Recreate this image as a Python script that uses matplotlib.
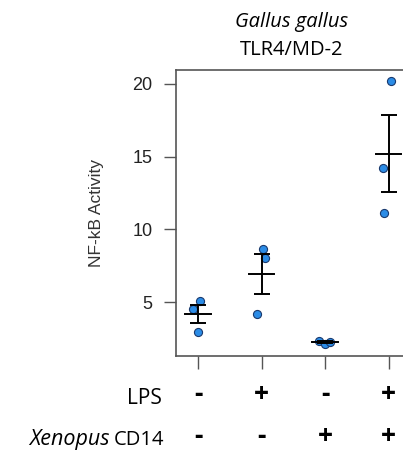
import numpy as np
import matplotlib.pyplot as plt

# data
groups = [1, 2, 3, 4]
pts_x = [[0.92, 1.04, 1.00],
         [2.03, 2.06, 1.93],
         [2.90, 3.00, 3.08],
         [4.03, 3.91, 3.93]]
pts_y = [[4.52, 5.07, 2.95],
         [8.63, 8.01, 4.18],
         [2.35, 2.15, 2.25],
         [20.2, 14.25, 11.16]]
lps = ['-', '+', '-', '+']
cd14 = ['-', '-', '+', '+']
yticks = [5, 10, 15, 20]

plt.rcParams['font.family'] = 'Liberation Sans'

fig = plt.figure(figsize=(4.03, 4.51), dpi=100)
ax = fig.add_axes([176/403, 95/451, 235/403, 286/451])

for g, xs, ys in zip(groups, pts_x, pts_y):
    ys = np.array(ys)
    m = ys.mean()
    sem = ys.std(ddof=1) / np.sqrt(len(ys))
    ax.scatter(xs, ys, s=34, color='#2b8ce6', edgecolor='#1a3a6e', linewidth=0.8, zorder=2)
    ax.plot([g - 0.2, g + 0.2], [m, m], color='black', lw=1.4, zorder=3)
    ax.errorbar(g, m, yerr=sem, fmt='none', ecolor='black', elinewidth=1.4,
                capsize=6, capthick=1.4, zorder=3)

ax.set_xlim(0.655, 4.35)
ax.set_ylim(1.3, 20.96)
ax.set_yticks(yticks)
ax.set_xticks(groups)
ax.set_xticklabels([])
ax.tick_params(axis='y', labelsize=13, length=9, width=1, pad=8, colors='#555555')
ax.tick_params(axis='x', length=9, width=1, pad=0, colors='#555555')
for lab in ax.get_yticklabels():
    lab.set_color('#222222')
for s in ax.spines.values():
    s.set_color('#555555')
    s.set_linewidth(1.2)
ax.set_ylabel('NF-kB Activity', fontsize=12.5, color='#333333', labelpad=20)

ff = 'Open Sans'
fig.text(292/403, 1 - 22/451, 'Gallus gallus', ha='center', va='center', fontsize=14.5,
         style='italic', family=ff)
fig.text(292/403, 1 - 50/451, 'TLR4/MD-2', ha='center', va='center', fontsize=14.5, family=ff)

for g, a, b in zip(groups, lps, cd14):
    xf = ax.transData.transform((g, 0))[0] / fig.bbox.width
    fig.text(xf, 1 - 402/451, a, ha='center', va='baseline', fontsize=19, family=ff,
             fontweight='bold')
    fig.text(xf, 1 - 444/451, b, ha='center', va='baseline', fontsize=19, family=ff,
             fontweight='bold')

fig.text(162/403, 1 - 404/451, 'LPS', ha='right', va='baseline', fontsize=15, family=ff)
fig.text(114/403, 1 - 445/451, 'CD14', ha='left', va='baseline', fontsize=14.5, family=ff)
fig.text(110/403, 1 - 445/451, 'Xenopus', ha='right', va='baseline', fontsize=15.5, family=ff,
         style='italic')

fig.savefig('out.png', dpi=100)
